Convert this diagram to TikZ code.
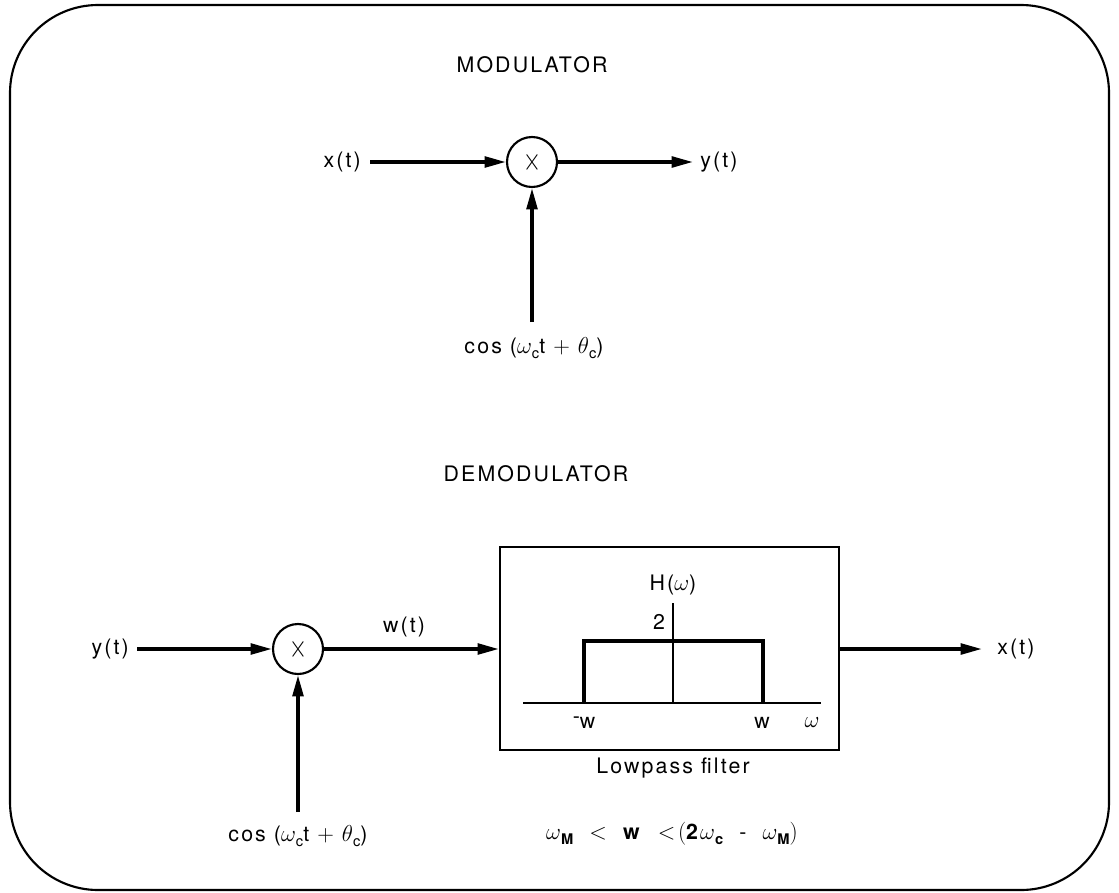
\documentclass[tikz,border=0pt]{standalone}
\usepackage{fontspec}
\usepackage{graphicx}
\setmainfont{TeX Gyre Heros}[LetterSpace=10]
\usetikzlibrary{arrows.meta}
\newcommand\lsub[1]{\raisebox{-0.45ex}{\fontsize{11}{12}\selectfont #1}}
\tikzset{
  px/.style={x=0.75pt,y=-0.75pt},
  lbl/.style={inner sep=0pt,font=\fontsize{16}{19}\selectfont},
  sig/.style={line width=2.6pt,-{Triangle[length=16pt,width=8pt]}},
  mult/.style={circle,draw,line width=1.6pt,minimum size=37.5pt,inner sep=0pt,font=\fontsize{16}{19}\selectfont},
  frame/.style={line width=1.6pt,rounded corners=66pt},
  filt/.style={draw,line width=1.6pt,inner sep=0pt},
}
\begin{document}
\begin{tikzpicture}[px]
\useasboundingbox (0,0) rectangle (1119,892);
\draw[frame] (10,5) rectangle (1109,890);

% ---------- modulator ----------
\node[lbl] (tmod) at (532,65) {MODULATOR};
\node[mult] (m1) at (532,162) {\scalebox{1}[1.4]{$\times$}};
\node[lbl,anchor=east] (x1) at (361,162) {x(t)};
\node[lbl,anchor=west] (y1) at (700,162) {y(t)};
\coordinate (y1e) at (693,162);
\node[lbl] (c1) at (534,348) {cos ($\omega$\lsub{c}t $+$ $\theta$\lsub{c})};
\coordinate (c1s) at (532,322);
\draw[sig] (370,162) -- (m1);
\draw[sig] (m1) -- (y1e);
\draw[sig] (c1s) -- (m1);

% ---------- demodulator ----------
\node[lbl] (tdem) at (536,474) {DEMODULATOR};
\node[mult] (m2) at (298,649) {\scalebox{1}[1.4]{$\times$}};
\node[lbl,anchor=east] (y2) at (129,649) {y(t)};
\node[lbl] (w2) at (404,627) {w(t)};
\node[filt,minimum width=254.25pt,minimum height=152.25pt] (box) at (669.5,648.5) {};
\coordinate (c2s) at (298,812);
\node[lbl] (c2) at (298,836) {cos ($\omega$\lsub{c}t $+$ $\theta$\lsub{c})};
\coordinate (x2e) at (982,649);
\node[lbl,anchor=west] (x2) at (997,649) {x(t)};
\draw[sig] (137,649) -- (m2);
\draw[sig] (m2) -- (m2 -| box.west);
\draw[sig] (c2s) -- (m2);
\draw[sig] (box.east |- m2) -- (x2e);

% filter plot
\coordinate (o) at (673,703);
\draw[line width=1.8pt] (523,703) -- (821,703);
\draw[line width=1.2pt] (673,603) -- (o);
\draw[line width=2.6pt,line join=miter] (584,703) -- (584,641) -- (763,641) -- (763,703);
\node[lbl] (hw) at (673,585) {H($\omega$)};
\node[lbl] (two) at (659,622) {2};
\node[lbl] (mw) at (584,723) {\raisebox{0.45ex}{-}w};
\node[lbl] (pw) at (762,723) {w};
\node[lbl] (om) at (812,723) {$\omega$};
\node[lbl] (lp) at (673,768) {Lowpass filter};
\node[lbl] (cond) at (672,834) {$\omega$\lsub{\bfseries M} \ $<$ \ \textbf{w} \ $<\!\Bigl($\textbf{2}$\omega$\lsub{\bfseries c}\ \ - \ $\omega$\lsub{\bfseries M}$\Bigr)$};
\end{tikzpicture}
\end{document}
